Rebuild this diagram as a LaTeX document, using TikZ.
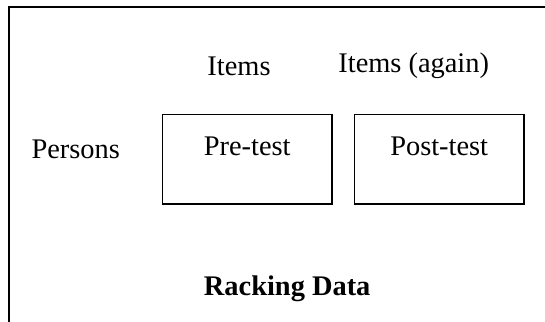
\documentclass[tikz,border=0pt]{standalone}
\usepackage{fontspec}
\setmainfont{Liberation Serif}
\usepackage{tikz}

\begin{document}
\begin{tikzpicture}[x=0.75pt, y=-0.75pt,
    framestyle/.style={draw, line width=1.5pt},
    testbox/.style={rectangle, draw, line width=1.1pt, minimum width=127pt, minimum height=67pt},
    lbl/.style={inner sep=0pt, anchor=base, font=\fontsize{21.3}{25}\selectfont}]
  \useasboundingbox (0,0) rectangle (545,321);
  \clip (0,0) rectangle (545,321);

  % outer frame, runs off the right and bottom edges
  \draw[framestyle] (8.5,340) -- (8.5,7) -- (560,7);

  % the two test boxes
  \foreach \name/\x/\txt in {pre/247.2/Pre-test, post/439.2/Post-test}
    {\node [testbox] (\name) at (\x,159.3) {};
     \node [lbl] (\name text) at (\x,155.5) {\txt};}

  \node [lbl] (items) at (239,75.5) {Items};
  \node [lbl] (itemsagain) at (413.7,72) {Items (again)};
  \node [lbl] (persons) at (75.7,158) {Persons};
  \node [lbl, font=\fontsize{21.3}{25}\selectfont\bfseries] (racking) at (287.2,295) {Racking Data};
\end{tikzpicture}
\end{document}
